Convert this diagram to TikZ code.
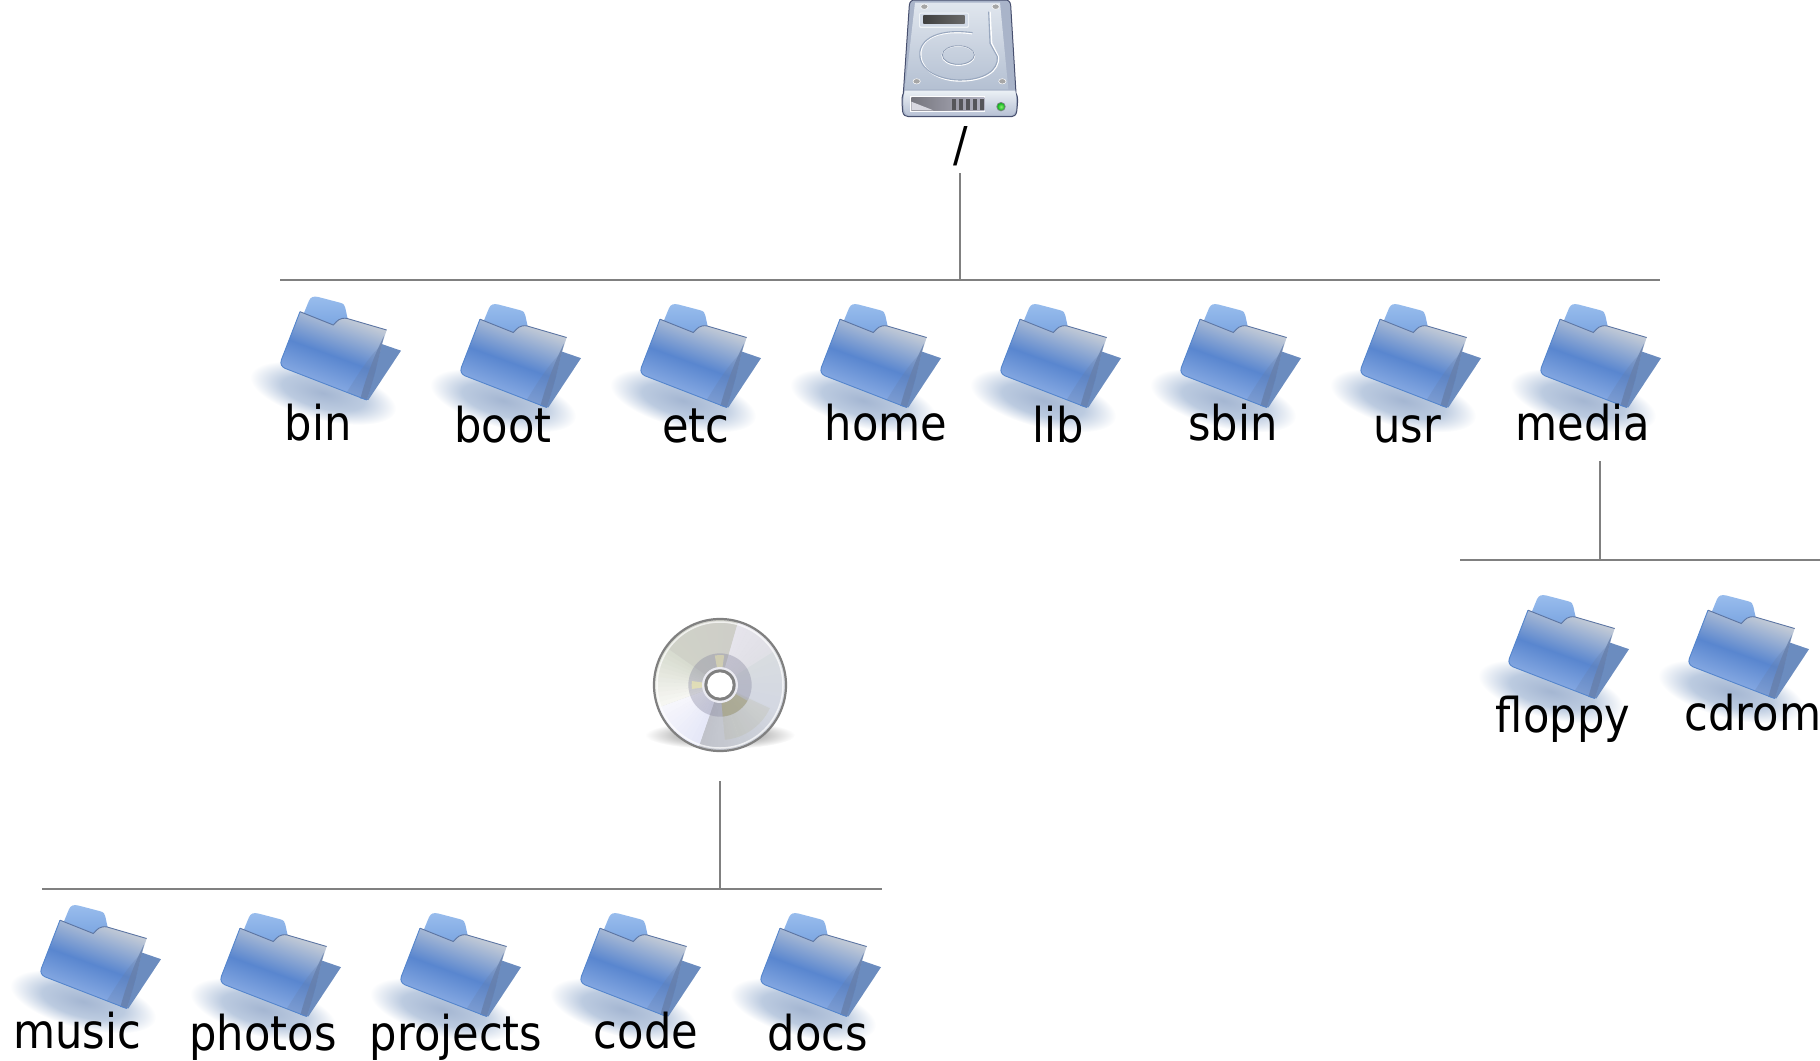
\documentclass[tikz,border=0pt]{standalone}
\usepackage{fontspec}
\setmainfont[FakeStretch=0.9]{DejaVu Sans}
\usetikzlibrary{calc}
\definecolor{wiregray}{HTML}{808080}
\definecolor{shA}{HTML}{A4B6D2}
\definecolor{shB}{HTML}{BCCBE0}
\definecolor{frA}{HTML}{8FB0E6}
\definecolor{frB}{HTML}{5986CF}
\definecolor{frC}{HTML}{C2CAD6}
\definecolor{frD}{HTML}{CCD4DE}
\definecolor{tabA}{HTML}{6B99DB}
\definecolor{tabB}{HTML}{99BDED}
\definecolor{flap}{HTML}{6B8CBF}
\definecolor{strip}{HTML}{667FAB}
\definecolor{edgeA}{HTML}{5C75A3}
\definecolor{edgeB}{HTML}{5485CC}
\definecolor{cdsA}{HTML}{8A8A8A}
\definecolor{cdsB}{HTML}{BDBDBD}
\definecolor{hdBody}{HTML}{A9B4C9}
\definecolor{hdEdge}{HTML}{474F6E}
\definecolor{hdTopA}{HTML}{E0E6EE}
\definecolor{hdTopB}{HTML}{B4C0D2}
\definecolor{hdBandA}{HTML}{EBF0F5}
\definecolor{hdBandB}{HTML}{B8C2D5}
\definecolor{hdWin}{HTML}{D1D9E6}
\definecolor{hdDarkA}{HTML}{404040}
\definecolor{hdDarkB}{HTML}{6A6A6A}
\definecolor{hdLine}{HTML}{99A8BF}
\definecolor{hdLineB}{HTML}{8C9BB3}
\definecolor{hdSlotA}{HTML}{76767E}
\definecolor{hdSlotB}{HTML}{B3B3C2}
\definecolor{hdSlotC}{HTML}{D8D8E0}
\definecolor{hdBar}{HTML}{55555A}
\definecolor{ledEdge}{HTML}{385247}
\definecolor{ledA}{HTML}{8CF273}
\definecolor{ledB}{HTML}{0DB31A}
\definecolor{cdRing}{HTML}{8888A0}
\definecolor{rgB}{HTML}{A8A470}
\definecolor{rgE}{HTML}{EDE8B0}
\definecolor{rgF}{HTML}{EBEBF2}
\definecolor{sa}{HTML}{D8DCE0}\definecolor{sb}{HTML}{D4D8E2}\definecolor{sc}{HTML}{C8CCD4}
\definecolor{sd}{HTML}{C0C2CA}\definecolor{se}{HTML}{E6E8F8}\definecolor{sf}{HTML}{F6F6FC}
\definecolor{sg}{HTML}{F6F6F2}\definecolor{sh}{HTML}{D8DCD0}\definecolor{si}{HTML}{D0D2C8}
\definecolor{sj}{HTML}{CECEC8}\definecolor{sk}{HTML}{E6E4EC}\definecolor{sl}{HTML}{E0E0E6}
\pgfdeclareradialshading{foldshadow}{\pgfpointorigin}{color(0bp)=(shA);color(14bp)=(shB);color(25bp)=(white);color(50bp)=(white)}
\pgfdeclareverticalshading{foldfront}{100bp}{color(0bp)=(frA);color(30bp)=(frA);color(50bp)=(frB);color(72bp)=(frC);color(100bp)=(frD)}
\pgfdeclareverticalshading{foldtab}{100bp}{color(0bp)=(tabA);color(75bp)=(tabB);color(100bp)=(tabB)}
\pgfdeclareradialshading{cdshadow}{\pgfpointorigin}{color(0bp)=(cdsA);color(14bp)=(cdsB);color(25bp)=(white);color(50bp)=(white)}
\tikzset{
  wire/.style={draw=wiregray,line width=1.5pt},
  lbl/.style={font=\fontsize{48}{50}\selectfont,anchor=base,inner sep=0pt,text=black},
  zoomed/.style={x=0.33333pt,y=-0.33333pt},
  screw/.style={fill=gray!70!white,draw=white,line width=.5pt},
}
% #1,#2 offset of the folder relative to the "bin" folder
\newcommand{\folderat}[2]{%
  \pgfmathsetmacro{\cxx}{#1+240+83}%
  \pgfmathsetmacro{\cyy}{-(#2+270+123)}%
  \begin{scope}[transform canvas={shift={(\cxx pt,\cyy pt)},rotate=-14}]
    \shade[shading=foldshadow] (0,0) ellipse [x radius=75pt,y radius=27pt];
  \end{scope}
  \begin{scope}[shift={(#1+240,#2+270)},zoomed]
    \shade[shading=foldtab] (175,170) -- (207,92) .. controls (212,80) and (222,78) .. (235,81) -- (300,98) .. controls (312,101) and (314,106) .. (316,114) -- (326,160) -- cycle;
    \fill[fill=flap] (425,222) -- (483,242) -- (385,390) -- (360,385) -- cycle;
    \shade[shading=foldfront,shading angle=-20] (180,125) -- (280,165) .. controls (292,152) and (298,143) .. (320,145) -- (440,180) -- (425,225) .. controls (410,290) and (395,350) .. (380,390) -- (135,295) .. controls (125,290) and (120,282) .. (124,270) -- cycle;
    \fill[fill=strip,opacity=.28] (425,225) .. controls (410,290) and (395,350) .. (380,390) -- (320,367) .. controls (350,320) and (385,260) .. cycle;
    \fill[fill=strip,opacity=.8] (432,198) .. controls (412,280) and (397,345) .. (380,390) -- (362,383) .. controls (375,330) and (405,250) .. cycle;
    \draw[draw=edgeA,line width=.9pt] (180,125) -- (280,165) .. controls (292,152) and (298,143) .. (320,145) -- (440,180);
    \draw[draw=edgeB,line width=.9pt] (380,390) -- (135,295) .. controls (125,290) and (120,282) .. (124,270) -- (180,125);
  \end{scope}}
\begin{document}
\begin{tikzpicture}[x=1pt,y=-1pt]
\useasboundingbox (0,0) rectangle (1820,1060);

% hard disk
\begin{scope}[shift={(860,0)},zoomed]
  \path[fill=hdBody,draw=hdEdge,line width=1pt] (148,15) .. controls (150,4) and (155,0) .. (165,0) -- (435,0) .. controls (445,0) and (450,4) .. (452,15) -- (468,280) .. controls (474,290) and (474,300) .. (470,335) .. controls (468,345) and (462,350) .. (455,350) -- (145,350) .. controls (136,350) and (130,345) .. (128,335) .. controls (125,300) and (125,290) .. (130,280) -- cycle;
  \shade[top color=hdTopA,bottom color=hdTopB] (165,8) -- (420,8) -- (445,268) -- (135,268) -- cycle;
  \shade[top color=hdBandA,bottom color=hdBandB] (134,272) -- (466,272) -- (470,300) .. controls (470,330) and (466,346) .. (452,346) -- (148,346) .. controls (134,346) and (130,330) .. (130,300) -- cycle;
  \fill[hdTopA!50!white,rounded corners=2pt] (177,38) rectangle (327,84);
  \fill[fill=hdWin,rounded corners=1pt] (180,41) rectangle (324,80);
  \shade[left color=hdDarkA,right color=hdDarkB] (190,46) rectangle (314,70);
  % platter
  \draw[white,line width=1.4pt] (336,101) .. controls (215,85) and (175,130) .. (183,172) .. controls (190,220) and (250,243) .. (300,243) .. controls (370,243) and (420,215) .. (415,170) -- (395,130) -- (390,35);
  \draw[draw=hdLine,line width=1.1pt] (338,98) .. controls (215,82) and (172,130) .. (180,172) .. controls (187,218) and (250,240) .. (300,240) .. controls (370,240) and (416,212) .. (412,170) -- (390,130) -- (386,35);
  \draw[white,line width=1.1pt] (295,167) ellipse [x radius=49,y radius=29];
  \draw[draw=hdLineB,line width=.8pt] (295,165) ellipse [x radius=48,y radius=28];
  \foreach \sx/\sy in {193/20,407/20,170/244,427/244}
    \path[screw] (\sx,\sy) ellipse [x radius=11,y radius=8];
  % slot
  \fill[white!90!hdBandA] (150,289) rectangle (376,335);
  \shade[left color=hdSlotA,right color=hdSlotB] (154,293) rectangle (373,331);
  \fill[fill=hdSlotC] (154,331) -- (154,305) -- (220,331) -- cycle;
  \foreach \bx in {276,297,318,339,360}
    \fill[fill=hdBar] (\bx,296) rectangle +(11,33);
  \fill[fill=ledEdge!70!white] (423,320) circle (14);
  \shade[inner color=ledA,outer color=ledB] (423,320) circle (11);
\end{scope}

% cd
\begin{scope}[shift={(630,600)},zoomed]
  \shade[shading=cdshadow] (270,405) ellipse [x radius=225,y radius=42];
  \fill[fill=sa] (270,255) circle (197);
  \foreach \aa/\ab/\ca/\cb in {-32/20/sa/sb,20/70/sb/sc,70/109/sc/sd,109/160/se/sf,160/215/sg/sh,215/286/si/sj,286/328/sk/sl} {
    \pgfmathsetmacro{\dstep}{(\ab-\aa)/12}
    \foreach \kk in {0,...,11} {
      \pgfmathsetmacro{\wa}{\aa+\kk*\dstep}
      \pgfmathsetmacro{\wb}{\aa+(\kk+1)*\dstep+(\kk<11?0.5:0)}
      \pgfmathsetmacro{\pp}{100-\kk*100/11}
      \fill[fill=\ca!\pp!\cb] (270,255) -- +(\wa:195) arc[start angle=\wa,end angle=\wb,radius=195] -- cycle;
    }
  }
  % inner ring
  \fill[fill=cdRing,opacity=.38] (270,255) circle (95);
  \fill[fill=rgB,opacity=.14] (270,255) -- +(25:165) arc[start angle=25,end angle=85,radius=165] -- cycle;
  \fill[fill=rgB,opacity=.45] (270,255) -- +(30:95) arc[start angle=30,end angle=85,radius=95] -- cycle;
  \fill[fill=rgE,opacity=.7] (270,255) -- +(172:85) arc[start angle=172,end angle=188,radius=85] -- cycle;
  \fill[fill=rgE,opacity=.5] (270,255) -- +(-100:90) arc[start angle=-100,end angle=-82,radius=90] -- cycle;
  \fill[fill=rgF] (270,255) circle (54);
  \fill[fill=wiregray] (270,255) circle (47);
  \fill[white] (270,255) circle (38);
  \draw[white,line width=1.5pt,opacity=.7] (270,255) circle (189);
  \draw[draw=wiregray,line width=2.2pt] (270,255) circle (198);
\end{scope}

% folders
\folderat{0}{0}
\foreach \fk in {1,...,7} {\pgfmathsetmacro{\fx}{180*\fk}\folderat{\fx}{7.5}}
\folderat{1228}{298.5}
\folderat{1408}{298.5}
\folderat{-240}{608.5}
\foreach \fk in {0,...,3} {\pgfmathsetmacro{\fx}{-60+180*\fk}\folderat{\fx}{616.5}}

% labels
\node[lbl] (root) at (961,161) {/};
\node[lbl] (bin) at (318,440) {bin};
\node[lbl] (boot) at (503,442) {boot};
\node[lbl] (etc) at (696,442) {etc};
\node[lbl] (home) at (886,440) {home};
\node[lbl] (lib) at (1058,442) {lib};
\node[lbl] (sbin) at (1233,440) {sbin};
\node[lbl] (usr) at (1407,442) {usr};
\node[lbl] (media) at (1583,440) {media};
\node[lbl] (floppy) at (1563,732) {floppy};
\node[lbl] (cdrom) at (1753,730) {cdrom};
\node[lbl] (music) at (77,1048) {music};
\node[lbl] (photos) at (263,1050) {photos};
\node[lbl] (projects) at (456,1050) {projects};
\node[lbl] (code) at (646,1048) {code};
\node[lbl] (docs) at (818,1050) {docs};

% connectors
\coordinate (rootstem) at (960,173);
\coordinate (rootbus) at (960,280);
\coordinate (rootl) at (280,280);
\coordinate (rootr) at (1660,280);
\coordinate (mediastem) at (1600,461);
\coordinate (mediabus) at (1600,560);
\coordinate (medial) at (1460,560);
\coordinate (mediar) at (1820,560);
\coordinate (cdstem) at (720,781);
\coordinate (cdbus) at (720,889);
\coordinate (cdl) at (42,889);
\coordinate (cdr) at (882,889);
\draw[wire] (rootstem) -- (rootbus);
\draw[wire] (rootl) -- (rootr);
\draw[wire] (mediastem) -- (mediabus);
\draw[wire] (medial) -- (mediar);
\draw[wire] (cdstem) -- (cdbus);
\draw[wire] (cdl) -- (cdr);
\end{tikzpicture}
\end{document}
